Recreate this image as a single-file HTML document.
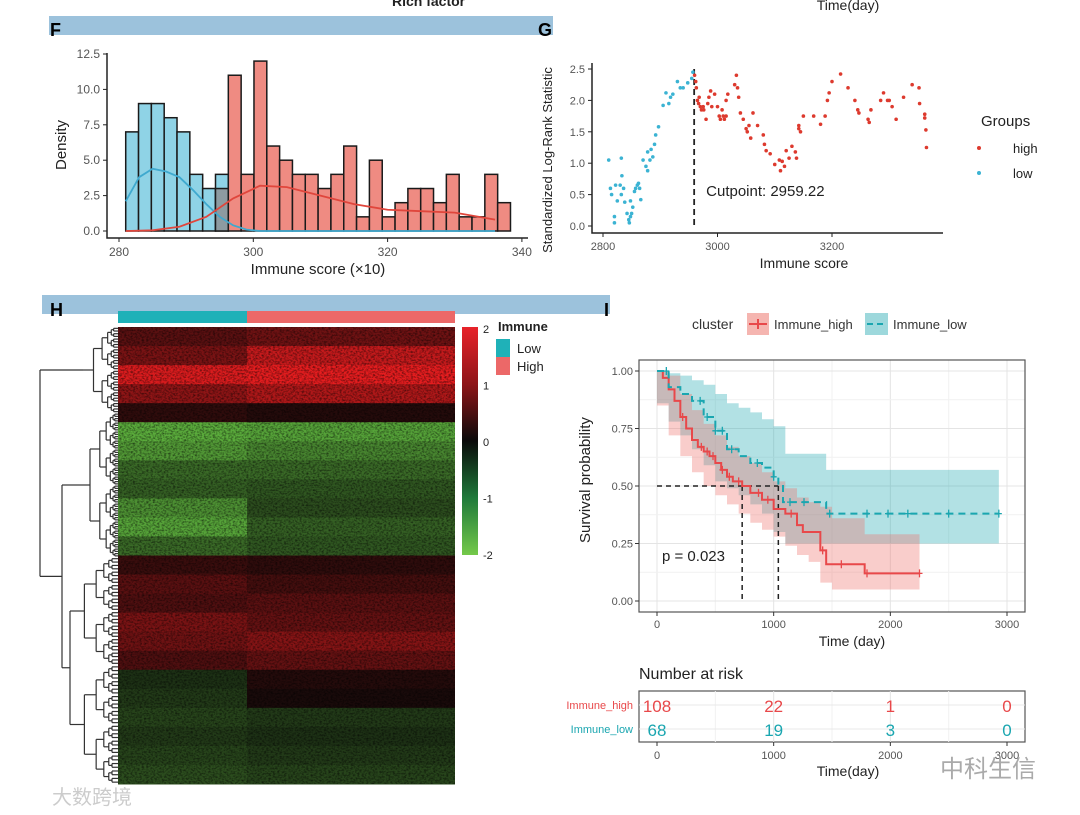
<!DOCTYPE html>
<html><head><meta charset="utf-8"><style>
body{margin:0;background:#fff;}
svg{display:block;font-family:"Liberation Sans","Noto Sans CJK SC",sans-serif;}
</style></head><body>
<svg id="root" width="1080" height="815" viewBox="0 0 1080 815">
<defs>
<filter id="speck" x="0" y="0" width="100%" height="100%">
<feTurbulence type="fractalNoise" baseFrequency="0.45 0.6" numOctaves="2" seed="3" result="n"/>
<feColorMatrix in="n" type="matrix" values="0 0 0 0 0  0 0 0 0 0  0 0 0 0 0  0 0 0 -2.2 1.35"/>
</filter>
</defs>
<g>
<text x="392" y="6" font-size="14" font-weight="bold" fill="#222">Rich factor</text>
<text x="848" y="10" font-size="14" fill="#222" text-anchor="middle">Time(day)</text>
</g>
<rect x="49" y="16" width="504" height="19" fill="#9cc2dc"/>
<text x="50" y="36" font-size="18" font-weight="bold">F</text>
<text x="538" y="36" font-size="18" font-weight="bold">G</text>
<rect x="42" y="295" width="568" height="19" fill="#9cc2dc"/>
<text x="50" y="316" font-size="18" font-weight="bold">H</text>
<text x="604" y="316" font-size="18" font-weight="bold">I</text>
<g id="F"></g>
<g id="G"></g>
<g id="H"></g>
<g id="I"></g>
<text x="52" y="804" font-size="20" fill="#ccc">大数跨境</text>
<text x="940" y="777" font-size="24" fill="#aaa">中科生信</text>
</svg>
<script>
// ---------- Panel F data ----------
const fBinStart = 281, fBinWidth = 1.91;
const fLowBins = [7,9,9,8,7,4,3,4];
const fHighBins = [0,0,0,0,0,0,0,3,11,4,12,6,5,4,4,3,4,6,1,5,1,2,3,3,2,4,1,1,4,2];
const fLowDensX = [281,283,285,287,289,291,293,295,297,299,301,336];
const fLowDensY = [2.1,3.8,4.4,4.2,3.8,2.9,1.9,1.0,0.4,0.1,0,0];
const fHighDensX = [281,285,289,293,297,301,305,310,315,320,325,330,336];
const fHighDensY = [0,0.05,0.3,1.0,2.3,3.2,3.1,2.5,1.9,1.5,1.4,1.3,0.8];
const fXTicks = [280,300,320,340];
const fYTicks = [0,2.5,5,7.5,10,12.5];
// ---------- Panel G data ----------
const gLowX = [2810,2813,2815,2820,2820,2822,2825,2830,2832,2833,2832,2836,2838,2842,2845,2846,2848,2850,2852,2848,2855,2857,2860,2862,2864,2866,2870,2875,2878,2878,2882,2884,2887,2890,2892,2897,2905,2910,2915,2918,2922,2930,2935,2940,2948,2955,2957];
const gLowY = [1.05,0.6,0.5,0.15,0.05,0.65,0.4,0.65,1.08,0.8,0.5,0.6,0.38,0.2,0.1,0.05,0.15,0.2,0.3,0.4,0.55,0.6,0.65,0.68,0.6,0.42,1.05,0.95,0.88,1.18,1.05,1.22,1.1,1.3,1.45,1.58,1.92,2.12,1.95,2.05,2.1,2.3,2.2,2.2,2.28,2.35,2.45];
const gHighX = [2960,2962,2963,2965,2967,2968,2970,2972,2975,2976,2980,2983,2985,2988,2990,2995,3000,3003,3005,3008,3010,3012,3015,3015,3018,3030,3033,3035,3037,3040,3045,3050,3052,3055,3058,3062,3070,3080,3082,3085,3092,3100,3108,3110,3113,3117,3120,3125,3130,3136,3138,3142,3142,3145,3150,3168,3180,3188,3192,3195,3200,3215,3228,3240,3245,3247,3263,3265,3268,3285,3290,3297,3300,3305,3312,3325,3340,3352,3353,3362,3362,3364,3365];
const gHighY = [2.4,2.3,2.2,2.0,1.95,2.05,1.9,1.85,1.9,1.85,1.7,1.95,2.05,2.15,1.9,2.1,1.9,1.75,1.7,1.85,1.75,1.7,2.0,1.75,2.1,2.25,2.4,2.2,2.05,1.8,1.7,1.55,1.5,1.6,1.4,1.8,1.6,1.45,1.3,1.2,1.15,0.98,1.05,0.88,1.03,0.95,1.2,1.08,1.27,1.18,1.08,1.55,1.6,1.5,1.75,1.75,1.62,1.75,2.0,2.12,2.3,2.42,2.2,2.0,1.85,1.8,1.7,1.65,1.85,2.0,2.12,2.0,2.0,1.9,1.7,2.05,2.25,2.2,1.95,1.78,1.72,1.53,1.25];
const gCut = 2959.22;
const gXTicks = [2800,3000,3200];
const gYTicks = [0,0.5,1,1.5,2,2.5];
// ---------- Panel H data (24 row bands, low / high groups) ----------
const hLowBand = [0.6,0.9,1.8,1.1,0.2,-1.6,-1.4,-0.9,-0.8,-1.3,-1.5,-0.9,0.3,0.6,0.5,0.9,0.8,0.5,-0.3,-0.4,-0.5,-0.4,-0.5,-0.6];
const hHighBand = [0.8,1.6,1.9,1.4,0.1,-1.5,-1.2,-0.9,-0.7,-0.6,-0.8,-0.7,0.2,0.4,0.6,0.7,1.0,0.7,0.1,0.0,-0.4,-0.3,-0.4,-0.5];
const hScaleTicks = [2,1,0,-1,-2];
// ---------- Panel I data ----------
const iHighT = [0,50,100,150,200,250,300,350,400,450,500,550,600,650,730,800,900,1000,1100,1200,1250,1400,1450,1780,2250];
const iHighS = [1,0.97,0.92,0.87,0.8,0.75,0.7,0.67,0.65,0.63,0.6,0.57,0.54,0.52,0.5,0.47,0.44,0.4,0.38,0.33,0.3,0.22,0.16,0.12,0.12];
const iLowT = [0,100,200,300,400,500,600,700,800,900,1000,1040,1080,1450,2930];
const iLowS = [1,0.93,0.9,0.87,0.8,0.74,0.66,0.63,0.6,0.58,0.54,0.5,0.43,0.38,0.38];
const iHighCIT = [0,100,200,300,400,500,600,700,800,900,1000,1100,1200,1300,1400,1500,1780,2250];
const iHighUp = [1,0.98,0.9,0.83,0.77,0.72,0.67,0.63,0.6,0.56,0.52,0.49,0.45,0.43,0.41,0.36,0.29,0.29];
const iHighLo = [1,0.85,0.72,0.63,0.56,0.5,0.46,0.42,0.38,0.34,0.31,0.28,0.24,0.2,0.17,0.08,0.05,0.05];
const iLowCIT = [0,100,200,300,400,500,600,700,800,900,1000,1100,1450,2930];
const iLowUp = [1,0.99,0.98,0.96,0.94,0.9,0.86,0.84,0.82,0.79,0.76,0.64,0.57,0.57];
const iLowLo = [1,0.86,0.78,0.72,0.66,0.59,0.52,0.49,0.46,0.42,0.38,0.3,0.25,0.25];
const iHighCensor = [220,380,430,480,560,620,700,870,950,1150,1420,1580,1800,2250];
const iLowCensor = [80,370,430,500,560,640,860,1000,1140,1260,1480,1800,1980,2150,2500,2930];
const iMedHigh = 730, iMedLow = 1040;
const iXTicks = [0,1000,2000,3000];
const iYTicks = [0,0.25,0.5,0.75,1];
const riskGroups = ["Immune_high","Immune_low"];
const riskHigh = [108,22,1,0];
const riskLow = [68,19,3,0];

const NS="http://www.w3.org/2000/svg";
function mk(parent,tag,attrs,text){const e=document.createElementNS(NS,tag);for(const k in attrs)e.setAttribute(k,attrs[k]);if(text!==undefined)e.textContent=text;parent.appendChild(e);return e;}

// ===== Panel F =====
(function(){
const g=document.getElementById('F');
const xF=v=>119+(v-280)*6.715, yF=v=>231-v*14.16;
for(let i=0;i<fHighBins.length;i++){
  const x0=xF(fBinStart+i*fBinWidth), w=fBinWidth*6.715;
  const lo=i<fLowBins.length?fLowBins[i]:0, hi=fHighBins[i];
  if(lo>0){const r=mk(g,'rect',{x:x0,y:yF(lo),width:w,height:yF(0)-yF(lo),fill:'#8fd3e6',stroke:'#1a1a1a','stroke-width':1.5});
  }
  if(hi>0){const col=lo>0?'#8d9ba1':'#ef8b82';
  const r=mk(g,'rect',{x:x0,y:yF(hi),width:w,height:yF(0)-yF(hi),fill:col,stroke:'#1a1a1a','stroke-width':1.5});
  }
}
let d='';fLowDensX.forEach((v,i)=>d+=(i?'L':'M')+xF(v)+','+yF(fLowDensY[i]));
const p1=mk(g,'path',{d:d,fill:'none',stroke:'#3fa9cf','stroke-width':1.8});

d='';fHighDensX.forEach((v,i)=>d+=(i?'L':'M')+xF(v)+','+yF(fHighDensY[i]));
const p2=mk(g,'path',{d:d,fill:'none',stroke:'#e0463c','stroke-width':1.8});

mk(g,'path',{d:'M107,53V238H528',fill:'none',stroke:'#222','stroke-width':1.5});
fXTicks.forEach(v=>{mk(g,'line',{x1:xF(v),x2:xF(v),y1:238,y2:242,stroke:'#222'});
 const t=mk(g,'text',{x:xF(v),y:256,'font-size':12,fill:'#555','text-anchor':'middle'},String(v));
 });
fYTicks.forEach(v=>{mk(g,'line',{x1:103,x2:107,y1:yF(v),y2:yF(v),stroke:'#222'});
 const t=mk(g,'text',{x:100,y:yF(v)+4,'font-size':12,fill:'#555','text-anchor':'end'},v.toFixed(1));
 });
const xt=mk(g,'text',{x:318,y:274,'font-size':15,fill:'#222','text-anchor':'middle'},'Immune score (×10)');

const yt=mk(g,'text',{x:66,y:145,'font-size':15,fill:'#222','text-anchor':'middle',transform:'rotate(-90 66 145)'},'Density');

})();

// ===== Panel G =====
(function(){
const g=document.getElementById('G');
const xG=v=>603+(v-2800)*0.5725, yG=v=>226-v*62.8;
mk(g,'path',{d:'M592,63V233H943',fill:'none',stroke:'#222','stroke-width':1.5});
gXTicks.forEach(v=>{mk(g,'line',{x1:xG(v),x2:xG(v),y1:233,y2:237,stroke:'#222'});
 const t=mk(g,'text',{x:xG(v),y:250,'font-size':11,fill:'#555','text-anchor':'middle'},String(v));
 });
gYTicks.forEach(v=>{mk(g,'line',{x1:588,x2:592,y1:yG(v),y2:yG(v),stroke:'#222'});
 const t=mk(g,'text',{x:585,y:yG(v)+4,'font-size':11,fill:'#555','text-anchor':'end'},v.toFixed(1));
 });
const cl=mk(g,'line',{x1:xG(gCut),x2:xG(gCut),y1:yG(2.5),y2:yG(0),stroke:'#222','stroke-width':1.8,'stroke-dasharray':'6,4'});

gLowX.forEach((v,i)=>{const c=mk(g,'circle',{cx:xG(v),cy:yG(gLowY[i]),r:1.8,fill:'#3bb3d3'});
 });
gHighX.forEach((v,i)=>{const c=mk(g,'circle',{cx:xG(v),cy:yG(gHighY[i]),r:1.8,fill:'#dd3a2e'});
 });
const ct=mk(g,'text',{x:xG(gCut)+12,y:196,'font-size':15,fill:'#222'},'Cutpoint: '+gCut.toFixed(2));

const xt=mk(g,'text',{x:804,y:268,'font-size':14,fill:'#222','text-anchor':'middle'},'Immune score');

const yt=mk(g,'text',{x:552,y:160,'font-size':13,fill:'#222','text-anchor':'middle',transform:'rotate(-90 552 160)'},'Standardized Log-Rank Statistic');

const lg=mk(g,'text',{x:981,y:126,'font-size':15,fill:'#222'},'Groups');

[['high','#dd3a2e',148],['low','#3bb3d3',173]].forEach(a=>{
 mk(g,'circle',{cx:979,cy:a[2],r:2,fill:a[1]});
 const t=mk(g,'text',{x:1013,y:a[2]+5,'font-size':13,fill:'#222'},a[0]);
 });
})();

// ===== Panel H =====
(function(){
const g=document.getElementById('H');
const X0=118,X1=455,Y0=327,Y1=784,SPLIT=247;
function col(v){v=Math.max(-2,Math.min(2,v));
 if(v>=0){const t=v/2;return `rgb(${Math.round(25+t*215)},${Math.round(10+t*20)},${Math.round(10+t*22)})`;}
 const t=-v/2;return `rgb(${Math.round(15+t*95)},${Math.round(20+t*190)},${Math.round(12+t*60)})`;}
const bh=(Y1-Y0)/hLowBand.length;
hLowBand.forEach((v,i)=>{
 const r1=mk(g,'rect',{x:X0,y:Y0+i*bh,width:SPLIT-X0,height:bh+0.5,fill:col(v)});
 
 const r2=mk(g,'rect',{x:SPLIT,y:Y0+i*bh,width:X1-SPLIT,height:bh+0.5,fill:col(hHighBand[i])});
 
});
const tex=mk(g,'rect',{x:X0,y:Y0,width:X1-X0,height:Y1-Y0,fill:'#000',filter:'url(#speck)',opacity:0.55});

const a1=mk(g,'rect',{x:X0,y:311,width:SPLIT-X0,height:12,fill:'#1fb1b8'});

const a2=mk(g,'rect',{x:SPLIT,y:311,width:X1-SPLIT,height:12,fill:'#ec6868'});

const defs=mk(g,'defs',{});const lgd=mk(defs,'linearGradient',{id:'cb',x1:0,y1:0,x2:0,y2:1});
[[0,'#e8222a'],[0.25,'#8e1518'],[0.5,'#0a0a0a'],[0.75,'#1f7a3a'],[1,'#74c94a']].forEach(s=>mk(lgd,'stop',{offset:s[0],'stop-color':s[1]}));
const cb=mk(g,'rect',{x:462,y:327,width:16,height:228,fill:'url(#cb)'});

hScaleTicks.forEach((v,i)=>{const t=mk(g,'text',{x:483,y:333+i*56.5,'font-size':11,fill:'#222'},String(v));
 });
const lt=mk(g,'text',{x:498,y:331,'font-size':13,'font-weight':'bold',fill:'#222'},'Immune');

[['Low','#1fb1b8',339],['High','#ec6868',357]].forEach(a=>{
 mk(g,'rect',{x:496,y:a[2],width:14,height:18,fill:a[1]});
 const t=mk(g,'text',{x:517,y:a[2]+14,'font-size':13,fill:'#222'},a[0]);
 });
const dg=mk(g,'g',{stroke:'#333','stroke-width':1.2,fill:'none'});

function L(x1,y1,x2,y2){mk(dg,'line',{x1,y1,x2,y2});}
function sub(y0,y1,x,depth){
 const ym=(y0+y1)/2;
 if(depth===0||y1-y0<4){L(x,ym,X0,ym);return ym;}
 const nx=x+(X0-x)*0.35;
 const a=sub(y0,ym,nx,depth-1), b=sub(ym,y1,nx,depth-1);
 L(nx,a,nx,b);L(x,(a+b)/2,nx,(a+b)/2);return (a+b)/2;}
function cluster(y0,y1,x){const ym=(y0+y1)/2;const nx=x+(X0-x)*0.3;
 const a=sub(y0,ym,nx,5),b=sub(ym,y1,nx,5);L(nx,a,nx,b);L(x,(a+b)/2,nx,(a+b)/2);return (a+b)/2;}
const c1=cluster(327,413,83), c2=cluster(413,557,78), c3=cluster(557,665,70), c4=cluster(665,784,70);
L(62,c2,78,c2);
const m34=(c3+c4)/2;L(70,c3,70,c4);L(62,m34,70,m34);
const m2=(c2+m34)/2;L(62,c2,62,m34);L(40,m2,62,m2);
L(40,c1,83,c1);L(40,c1,40,m2);
})();

// ===== Panel I =====
(function(){
const g=document.getElementById('I');
const xI=t=>657+t*0.11667, yI=p=>601-p*230;
mk(g,'rect',{x:639,y:360,width:386,height:252,fill:'#fff'});
for(let t=0;t<=3000;t+=500){mk(g,'line',{x1:xI(t),x2:xI(t),y1:360,y2:612,stroke:t%1000?'#f1f1f1':'#e4e4e4'});}
for(let p=0;p<=1;p+=0.125){mk(g,'line',{x1:639,x2:1025,y1:yI(p),y2:yI(p),stroke:(p*4)%1?'#f1f1f1':'#e4e4e4'});}
function stepPath(T,S){let d='M'+xI(T[0])+','+yI(S[0]);for(let i=1;i<T.length;i++){d+='H'+xI(T[i])+'V'+yI(S[i]);}return d;}
function band(T,U,Lo){let d='M'+xI(T[0])+','+yI(U[0]);for(let i=1;i<T.length;i++)d+='H'+xI(T[i])+'V'+yI(U[i]);
 for(let i=T.length-1;i>0;i--)d+='V'+yI(Lo[i])+'H'+xI(T[i-1]);d+='V'+yI(Lo[0])+'Z';return d;}
const b2=mk(g,'path',{d:band(iLowCIT,iLowUp,iLowLo),fill:'#21a9b3','fill-opacity':0.35});

const b1=mk(g,'path',{d:band(iHighCIT,iHighUp,iHighLo),fill:'#ef6f6a','fill-opacity':0.35});

const med=mk(g,'path',{d:`M${xI(0)},${yI(0.5)}H${xI(iMedLow)}M${xI(iMedHigh)},${yI(0.5)}V${yI(0)}M${xI(iMedLow)},${yI(0.5)}V${yI(0)}`,stroke:'#222','stroke-width':1.5,'stroke-dasharray':'5,4',fill:'none'});

const l1=mk(g,'path',{d:stepPath(iHighT,iHighS),stroke:'#e8484a','stroke-width':2,fill:'none'});

const l2=mk(g,'path',{d:stepPath(iLowT,iLowS),stroke:'#1aa6b0','stroke-width':2,fill:'none','stroke-dasharray':'7,5'});

function sAt(T,S,t){let s=S[0];for(let i=0;i<T.length;i++){if(T[i]<=t)s=S[i];}return s;}
iHighCensor.forEach(t=>{const y=yI(sAt(iHighT,iHighS,t)),x=xI(t);mk(g,'path',{d:`M${x-3},${y}H${x+3}M${x},${y-4}V${y+4}`,stroke:'#e8484a','stroke-width':1.3});});
iLowCensor.forEach(t=>{const y=yI(sAt(iLowT,iLowS,t)),x=xI(t);mk(g,'path',{d:`M${x-3},${y}H${x+3}M${x},${y-4}V${y+4}`,stroke:'#1aa6b0','stroke-width':1.3});});
mk(g,'rect',{x:639,y:360,width:386,height:252,fill:'none',stroke:'#555','stroke-width':1.2});
iXTicks.forEach(t=>{mk(g,'line',{x1:xI(t),x2:xI(t),y1:612,y2:616,stroke:'#333'});
 const tx=mk(g,'text',{x:xI(t),y:628,'font-size':11,fill:'#555','text-anchor':'middle'},String(t));
 });
iYTicks.forEach(p=>{mk(g,'line',{x1:635,x2:639,y1:yI(p),y2:yI(p),stroke:'#333'});
 const tx=mk(g,'text',{x:633,y:yI(p)+4,'font-size':11,fill:'#555','text-anchor':'end'},p.toFixed(2));
 });
const pv=mk(g,'text',{x:662,y:561,'font-size':15,fill:'#222'},'p = 0.023');

const xt=mk(g,'text',{x:852,y:646,'font-size':14,fill:'#222','text-anchor':'middle'},'Time (day)');

const yt=mk(g,'text',{x:590,y:480,'font-size':15,fill:'#222','text-anchor':'middle',transform:'rotate(-90 590 480)'},'Survival probability');

const lt=mk(g,'text',{x:692,y:329,'font-size':14,fill:'#333'},'cluster');

mk(g,'rect',{x:747,y:313,width:22,height:22,fill:'#f5b5b0'});
mk(g,'path',{d:'M749,324H767M758,319V329',stroke:'#e8484a','stroke-width':2});
const le1=mk(g,'text',{x:774,y:329,'font-size':13,fill:'#333'},'Immune_high');

mk(g,'rect',{x:865,y:313,width:23,height:22,fill:'#9dd8dc'});
mk(g,'path',{d:'M867,324H886',stroke:'#1aa6b0','stroke-width':2,'stroke-dasharray':'6,4'});
const le2=mk(g,'text',{x:893,y:329,'font-size':13,fill:'#333'},'Immune_low');

const rt=mk(g,'text',{x:639,y:679,'font-size':16,fill:'#222'},'Number at risk');

mk(g,'rect',{x:639,y:691,width:386,height:51,fill:'#fff',stroke:'#555','stroke-width':1.2});
for(let t=500;t<3000;t+=500)mk(g,'line',{x1:xI(t),x2:xI(t),y1:691,y2:742,stroke:t%1000?'#f1f1f1':'#e4e4e4'});
[[riskHigh,'#e8484a',705],[riskLow,'#1aa6b0',729]].forEach((r,j)=>{
 mk(g,'line',{x1:639,x2:1025,y1:r[2],y2:r[2],stroke:'#e8e8e8'});
 const lb=mk(g,'text',{x:633,y:r[2]+4,'font-size':11,fill:r[1],'text-anchor':'end'},riskGroups[j]);
 
 r[0].forEach((n,i)=>{const tx=mk(g,'text',{x:xI(iXTicks[i]),y:r[2]+7,'font-size':17,fill:r[1],'text-anchor':'middle'},String(n));
  });
});
iXTicks.forEach(t=>{mk(g,'line',{x1:xI(t),x2:xI(t),y1:742,y2:746,stroke:'#333'});
 const tx=mk(g,'text',{x:xI(t),y:759,'font-size':11,fill:'#555','text-anchor':'middle'},String(t));
 });
const rx=mk(g,'text',{x:848,y:776,'font-size':14,fill:'#222','text-anchor':'middle'},'Time(day)');

})();
</script>
</body></html>
